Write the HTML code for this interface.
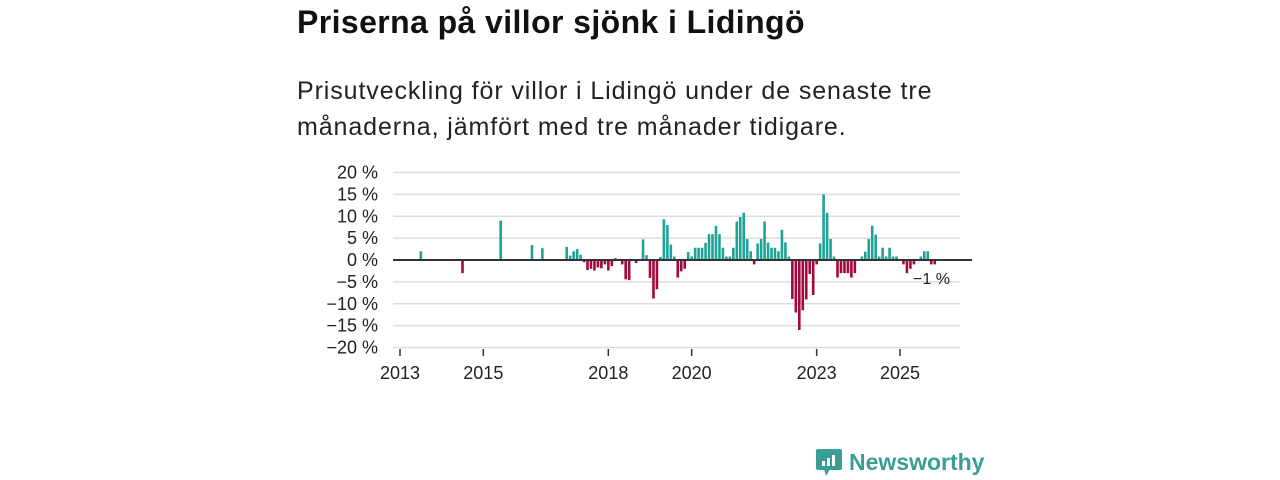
<!DOCTYPE html>
<html><head><meta charset="utf-8"><style>
body{margin:0;width:1280px;height:480px;background:#fff;font-family:"Liberation Sans",sans-serif;overflow:hidden;position:relative}
#title{position:absolute;left:297px;top:4px;font-size:32px;letter-spacing:0.4px;font-weight:bold;color:#111;margin:0}
#sub{position:absolute;left:297px;top:73px;font-size:25px;letter-spacing:0.9px;line-height:36px;color:#222;margin:0;width:680px}
svg{position:absolute;left:0;top:0}
</style></head><body>
<h1 id="title">Priserna på villor sjönk i Lidingö</h1>
<p id="sub">Prisutveckling för villor i Lidingö under de senaste tre<br>månaderna, jämfört med tre månader tidigare.</p>
<svg id="c" width="1280" height="480"></svg>
<div style="position:absolute;left:815px;top:447px;display:flex;align-items:center">
<svg width="28" height="30" style="position:static"><rect x="1" y="2" width="26" height="21" rx="2" fill="#3a9e95"/><polygon points="9,22 15,22 11,29" fill="#3a9e95"/><rect x="7" y="14" width="3" height="5" fill="#fff"/><rect x="12" y="11" width="3" height="8" fill="#fff"/><rect x="17" y="8" width="3" height="11" fill="#fff"/></svg>
<span style="color:#3a9e95;font-size:23px;font-weight:bold;margin-left:6px">Newsworthy</span></div>
<script>
const months=[6,18,29,38,41,48,49,50,51,52,53,54,55,56,57,58,59,60,61,62,63,64,65,66,67,68,69,70,71,72,73,74,75,76,77,78,79,80,81,82,83,84,85,86,87,88,89,90,91,92,93,94,95,96,97,98,99,100,101,102,103,104,105,106,107,108,109,110,111,112,113,114,115,116,117,118,119,120,121,122,123,124,125,126,127,128,129,130,131,133,134,135,136,137,138,139,140,141,142,143,145,146,147,148,150,151,152,153,154];
const values=[2,-3,9,3.4,2.7,3,1,2,2.5,1.2,-0.5,-2.3,-2,-2.4,-1.7,-1.9,-1,-2.4,-1.4,0.5,0.2,-1,-4.4,-4.6,0,-0.7,0,4.7,1.1,-4.1,-8.8,-6.7,0.7,9.3,8,3.5,0.8,-4,-2.6,-2,1.8,0.8,2.8,2.8,2.8,3.9,5.9,5.9,7.8,5.9,2.8,0.8,0.8,2.8,8.8,9.8,10.8,4.8,2,-1,3.8,4.8,8.8,4,2.8,2.8,2,6.9,4,0.8,-8.9,-12,-16,-11.5,-9,-3.2,-8,-1,3.8,15,10.8,4.8,0.8,-4,-3,-3,-3,-4,-3,0.8,1.9,4.8,7.8,5.8,0.8,2.8,0.8,2.8,0.8,0.8,-1,-3,-2,-1,0.8,2,2,-1,-1];
const yTicks=[20,15,10,5,0,-5,-10,-15,-20];
const xTicks=[2013,2015,2018,2020,2023,2025];
const svg=document.getElementById('c');const NS='http://www.w3.org/2000/svg';
const y=v=>260-v*4.375;
const xm=m=>400+m*3.4722;
const xy=yr=>xm((yr-2013)*12);
function mk(t,a,p){const e=document.createElementNS(NS,t);for(const k in a)e.setAttribute(k,a[k]);(p||svg).appendChild(e);return e;}
yTicks.forEach(v=>{
 const g=mk('line',{x1:393,x2:960,y1:y(v),y2:y(v),stroke:'#dedede','stroke-width':1.5});
 
 
 const t=mk('text',{x:378,y:y(v)+6,'text-anchor':'end','font-size':18,fill:'#222','font-family':'Liberation Sans, sans-serif'});
 t.textContent=(v<0?'\u2212'+(-v):v)+' %';
 
 
});
months.forEach((m,i)=>{
 const v=values[i];const x=xm(m)-1.3;
 const r=mk('rect',{x:x,width:2.6,y:v>=0?y(v):y(0),height:Math.abs(v)*4.375,fill:v>=0?'#1fa396':'#a3093e'});
 
 
});
const z=mk('line',{x1:393,x2:972,y1:260,y2:260,stroke:'#333','stroke-width':2});


xTicks.forEach(yr=>{
 const x=xy(yr);
 const l=mk('line',{x1:x,x2:x,y1:349,y2:356,stroke:'#333','stroke-width':1.5});
 
 
 const t=mk('text',{x:x,y:379,'text-anchor':'middle','font-size':18,fill:'#222','font-family':'Liberation Sans, sans-serif'});
 t.textContent=yr;
 
 
});
const lbl=mk('text',{x:913,y:284,'font-size':16,fill:'#222','font-family':'Liberation Sans, sans-serif'});
lbl.textContent='\u22121 %';


</script>
</body></html>
